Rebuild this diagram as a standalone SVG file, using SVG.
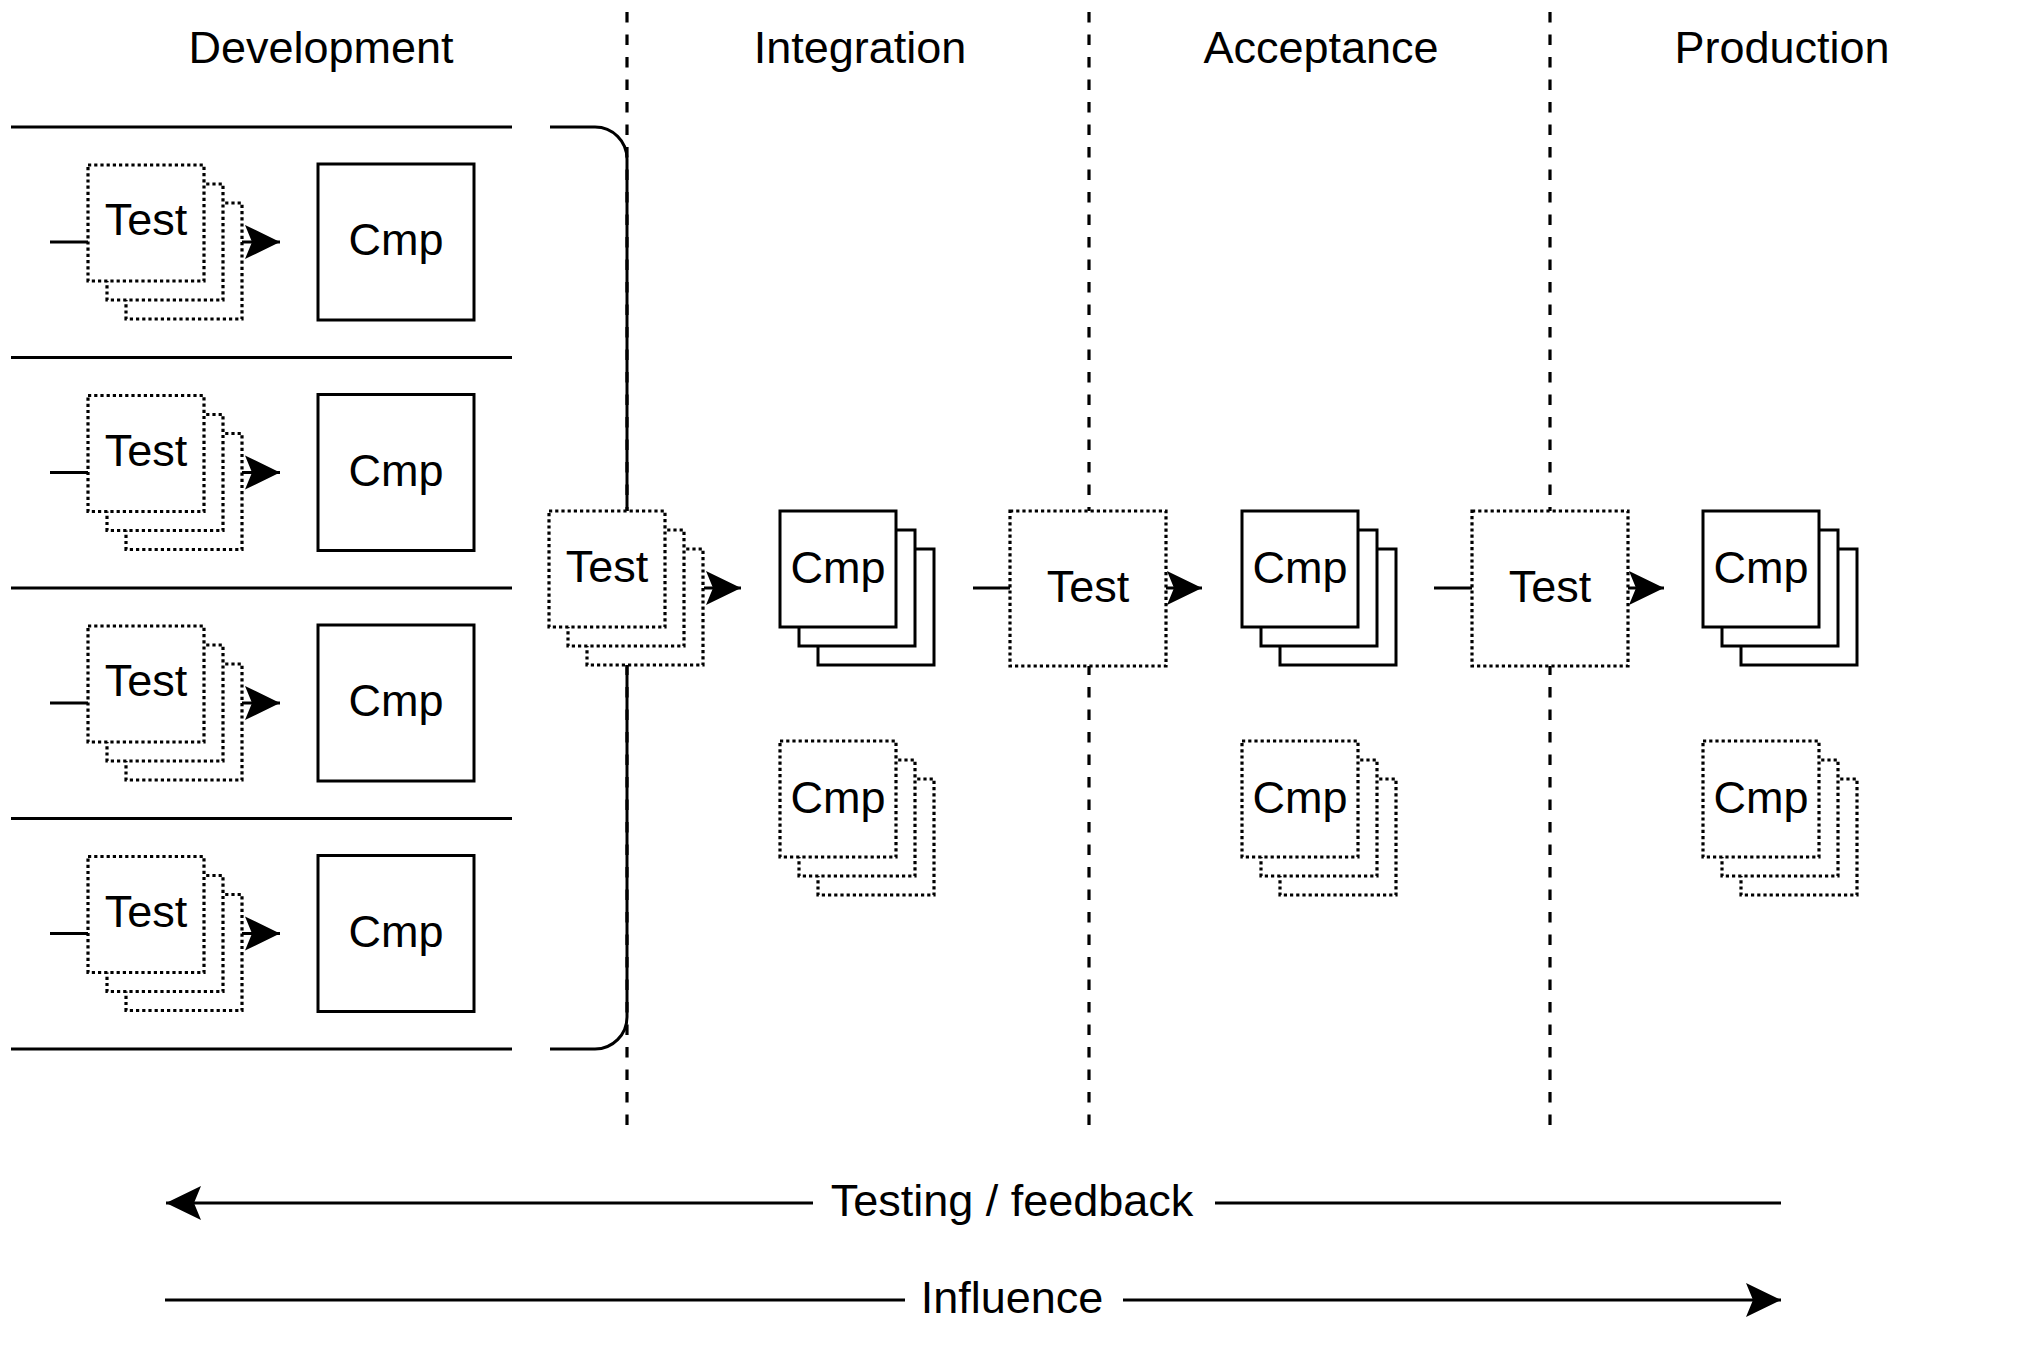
<svg xmlns="http://www.w3.org/2000/svg" width="2023" height="1350" viewBox="0 0 2023 1350">
<style>
text{font-family:"Liberation Sans",Arial,Helvetica,sans-serif;font-size:45px;fill:#000;text-anchor:middle}
.ln{stroke:#000;stroke-width:3;fill:none}
.dash{stroke:#000;stroke-width:3.2;fill:none;stroke-dasharray:10.5 12}
.sol{stroke:#000;stroke-width:3;fill:#fff}
.dot{stroke:#000;stroke-width:3.2;fill:#fff;stroke-dasharray:3.2 3}
</style>
<defs>
<marker id="ah" markerUnits="userSpaceOnUse" markerWidth="36" markerHeight="36" refX="35" refY="17" orient="auto" overflow="visible">
<path d="M0,0 L35,17 L0,34 L7,17 Z" fill="#000"/>
</marker>
<g id="tstack">
<rect class="dot" x="38" y="38" width="116" height="116"/>
<rect class="dot" x="19" y="19" width="116" height="116"/>
<rect class="dot" x="0" y="0" width="116" height="116"/>
</g>
<g id="cstack">
<rect class="sol" x="38" y="38" width="116" height="116"/>
<rect class="sol" x="19" y="19" width="116" height="116"/>
<rect class="sol" x="0" y="0" width="116" height="116"/>
</g>
</defs>
<rect width="2023" height="1350" fill="#fff"/>
<g id="headings">
<text x="321" y="63">Development</text>
<text x="860" y="63">Integration</text>
<text x="1321" y="63">Acceptance</text>
<text x="1782" y="63">Production</text>
</g>
<g id="stage-borders">
<line class="dash" x1="627" y1="12" x2="627" y2="1127"/>
<line class="dash" x1="1089" y1="12" x2="1089" y2="1127"/>
<line class="dash" x1="1550" y1="12" x2="1550" y2="1127"/>
</g>
<g id="lanes">
<line class="ln" x1="11" y1="127" x2="512" y2="127"/>
<line class="ln" x1="11" y1="357.5" x2="512" y2="357.5"/>
<line class="ln" x1="11" y1="588" x2="512" y2="588"/>
<line class="ln" x1="11" y1="818.5" x2="512" y2="818.5"/>
<line class="ln" x1="11" y1="1049" x2="512" y2="1049"/>
<path id="bracket" class="ln" d="M550,127 H595 A32,32 0 0 1 627,159 V1017 A32,32 0 0 1 595,1049 H550"/>
</g>
<g id="connectors">
<line class="ln" x1="50" y1="242" x2="88" y2="242"/>
<line class="ln" x1="242" y1="242" x2="280" y2="242" marker-end="url(#ah)"/>
<line class="ln" x1="50" y1="472.5" x2="88" y2="472.5"/>
<line class="ln" x1="242" y1="472.5" x2="280" y2="472.5" marker-end="url(#ah)"/>
<line class="ln" x1="50" y1="703" x2="88" y2="703"/>
<line class="ln" x1="242" y1="703" x2="280" y2="703" marker-end="url(#ah)"/>
<line class="ln" x1="50" y1="933.5" x2="88" y2="933.5"/>
<line class="ln" x1="242" y1="933.5" x2="280" y2="933.5" marker-end="url(#ah)"/>
<line class="ln" x1="704" y1="588" x2="741" y2="588" marker-end="url(#ah)"/>
<line class="ln" x1="973" y1="588" x2="1010" y2="588"/>
<line class="ln" x1="1166" y1="588" x2="1202" y2="588" marker-end="url(#ah)"/>
<line class="ln" x1="1434" y1="588" x2="1472" y2="588"/>
<line class="ln" x1="1628" y1="588" x2="1664" y2="588" marker-end="url(#ah)"/>
<line class="ln" x1="1781" y1="1203" x2="1215" y2="1203"/>
<line class="ln" x1="813" y1="1203" x2="166" y2="1203" marker-end="url(#ah)"/>
<line class="ln" x1="165" y1="1300" x2="905" y2="1300"/>
<line class="ln" x1="1123" y1="1300" x2="1781" y2="1300" marker-end="url(#ah)"/>
</g>
<g id="dev-test-1"><use href="#tstack" x="88" y="165"/><text x="146" y="235">Test</text></g>
<g id="dev-cmp-1"><rect class="sol" x="318" y="164" width="156" height="156"/><text x="396" y="255">Cmp</text></g>
<g id="dev-test-2"><use href="#tstack" x="88" y="395.5"/><text x="146" y="465.5">Test</text></g>
<g id="dev-cmp-2"><rect class="sol" x="318" y="394.5" width="156" height="156"/><text x="396" y="485.5">Cmp</text></g>
<g id="dev-test-3"><use href="#tstack" x="88" y="626"/><text x="146" y="696">Test</text></g>
<g id="dev-cmp-3"><rect class="sol" x="318" y="625" width="156" height="156"/><text x="396" y="716">Cmp</text></g>
<g id="dev-test-4"><use href="#tstack" x="88" y="856.5"/><text x="146" y="926.5">Test</text></g>
<g id="dev-cmp-4"><rect class="sol" x="318" y="855.5" width="156" height="156"/><text x="396" y="946.5">Cmp</text></g>
<g id="int-test"><use href="#tstack" x="549" y="511"/><text x="607" y="582">Test</text></g>
<g id="int-cmp"><use href="#cstack" x="780" y="511"/><text x="838" y="583">Cmp</text></g>
<g id="int-cmp-dotted"><use href="#tstack" x="780" y="741"/><text x="838" y="813">Cmp</text></g>
<g id="acc-test"><rect class="dot" x="1010" y="511" width="156" height="155"/><text x="1088" y="602">Test</text></g>
<g id="acc-cmp"><use href="#cstack" x="1242" y="511"/><text x="1300" y="583">Cmp</text></g>
<g id="acc-cmp-dotted"><use href="#tstack" x="1242" y="741"/><text x="1300" y="813">Cmp</text></g>
<g id="prod-test"><rect class="dot" x="1472" y="511" width="156" height="155"/><text x="1550" y="602">Test</text></g>
<g id="prod-cmp"><use href="#cstack" x="1703" y="511"/><text x="1761" y="583">Cmp</text></g>
<g id="prod-cmp-dotted"><use href="#tstack" x="1703" y="741"/><text x="1761" y="813">Cmp</text></g>
<g id="flow-labels">
<text x="1012" y="1216">Testing / feedback</text>
<text x="1012" y="1313">Influence</text>
</g>
</svg>
